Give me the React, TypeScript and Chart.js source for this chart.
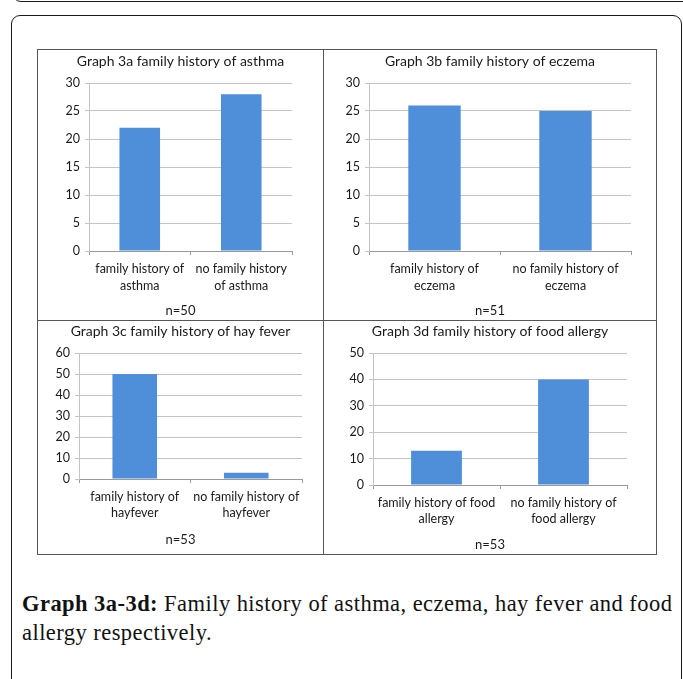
import React, { useEffect, useRef } from "react";
import { Chart, registerables } from "chart.js";

Chart.register(...registerables);

// ---- data ----
const asthmaLabels = [["family history of", "asthma"], ["no family history", "of asthma"]];
const asthmaValues = [22, 28];
const eczemaLabels = [["family history of", "eczema"], ["no family history of", "eczema"]];
const eczemaValues = [26, 25];
const hayLabels = [["family history of", "hayfever"], ["no family history of", "hayfever"]];
const hayValues = [50, 3];
const foodLabels = [["family history of food", "allergy"], ["no family history of", "food allergy"]];
const foodValues = [13, 40];
const panelTitles = [
  "Graph 3a family history of asthma",
  "Graph 3b family history of eczema",
  "Graph 3c family history of hay fever",
  "Graph 3d family history of food allergy",
];
const sampleSizes = ["n=50", "n=51", "n=53", "n=53"];
const yMaxes = [30, 30, 60, 50];
const ySteps = [5, 5, 10, 10];

// ---- style ----
const FONT = "Lato, 'Open Sans', sans-serif";
const BAR = "#4f8ed8";
const GRID = "#c4c4c4";
const AXIS = "#9a9a9a";
const TEXT = "#1a1a1a";

type Geo = {
  left: number; top: number; w: number; h: number;
  L: number; R: number; T: number; B: number;
  tc: number; nc: number; lh: number;
};

const geoA: Geo = { left: 38, top: 50, w: 285, h: 270, L: 51, R: 254, T: 33, B: 201, tc: 11, nc: 261, lh: 17 };
const geoB: Geo = { left: 324, top: 50, w: 332, h: 270, L: 45, R: 307, T: 33, B: 201, tc: 11, nc: 261, lh: 17 };
const geoC: Geo = { left: 38, top: 321, w: 285, h: 233, L: 41, R: 264, T: 32, B: 158, tc: 10, nc: 219, lh: 16 };
const geoD: Geo = { left: 324, top: 321, w: 332, h: 233, L: 49, R: 303, T: 32, B: 164, tc: 10, nc: 224, lh: 16 };

type PanelProps = {
  labels: string[][];
  values: number[];
  title: string;
  n: string;
  yMax: number;
  yStep: number;
  geo: Geo;
};

function Panel({ labels, values, title, n, yMax, yStep, geo }: PanelProps) {
  const ref = useRef<HTMLCanvasElement>(null);
  useEffect(() => {
    const titleSize = 14;
    const titleLH = titleSize * 1.2;
    const nSize = 13;
    const nLH = nSize * 1.2;
    const nPadTop = 2;
    const nPadBottom = geo.h - geo.nc - nLH / 2;
    const subH = nLH + nPadTop + nPadBottom;
    const xSize = 12.5;
    const chart = new Chart(ref.current as HTMLCanvasElement, {
      type: "bar",
      data: {
        labels,
        datasets: [
          {
            data: values,
            backgroundColor: BAR,
            borderWidth: 0,
            categoryPercentage: 1,
            barPercentage: 0.4,
            yAxisID: "y",
          },
        ],
      },
      options: {
        animation: false,
        responsive: false,
        maintainAspectRatio: false,
        layout: { padding: 0 },
        plugins: {
          legend: { display: false },
          tooltip: { enabled: false },
          title: {
            display: true,
            text: title,
            color: TEXT,
            font: { family: FONT, size: titleSize, weight: "normal", lineHeight: 1.2 },
            padding: { top: geo.tc - titleLH / 2, bottom: geo.T - geo.tc - titleLH / 2 },
          },
          subtitle: {
            display: true,
            position: "bottom",
            text: n,
            color: TEXT,
            font: { family: FONT, size: nSize, weight: "normal", lineHeight: 1.2 },
            padding: { top: nPadTop, bottom: nPadBottom },
          },
        },
        scales: {
          x: {
            grid: {
              display: true,
              drawOnChartArea: false,
              drawTicks: true,
              tickLength: 4,
              color: AXIS,
              offset: true,
            },
            border: { display: true, color: AXIS },
            ticks: {
              color: TEXT,
              font: { family: FONT, size: xSize, lineHeight: geo.lh / xSize },
              padding: 14 - geo.lh / 2,
              maxRotation: 0,
              minRotation: 0,
              autoSkip: false,
            },
            afterFit: (s: any) => {
              s.height = geo.h - geo.B - subH;
            },
          },
          y: {
            min: 0,
            max: yMax,
            ticks: {
              stepSize: yStep,
              color: TEXT,
              font: { family: FONT, size: 12.5 },
              padding: 5,
            },
            grid: { color: GRID, tickLength: 4 },
            border: { display: true, color: GRID },
            afterFit: (s: any) => {
              s.width = geo.L;
            },
          },
          yRight: {
            type: "linear",
            position: "right",
            display: true,
            grid: { display: false },
            ticks: { display: false },
            border: { display: false },
            afterFit: (s: any) => {
              s.width = geo.w - geo.R;
            },
          },
        },
      },
    } as any);
    return () => chart.destroy();
  }, []);
  return (
    <canvas
      ref={ref}
      width={geo.w}
      height={geo.h}
      style={{ position: "absolute", left: geo.left, top: geo.top, width: geo.w, height: geo.h }}
    />
  );
}

export default function App() {
  const line = "#555";
  return (
    <div
      style={{
        position: "absolute",
        left: 0,
        top: 0,
        width: 683,
        height: 679,
        overflow: "hidden",
        background: "#fff",
      }}
    >
      {/* bottom of previous box */}
      <div
        style={{
          position: "absolute",
          left: 12,
          top: -30,
          width: 690,
          height: 31.5,
          boxSizing: "border-box",
          border: "1.5px solid #1a1a1a",
          borderRadius: 9,
        }}
      />
      {/* figure box */}
      <div
        style={{
          position: "absolute",
          left: 11,
          top: 15,
          width: 671,
          height: 720,
          boxSizing: "border-box",
          border: "1.5px solid #1a1a1a",
          borderRadius: 9,
        }}
      />
      {/* panel grid */}
      <div
        style={{
          position: "absolute",
          left: 37,
          top: 49,
          width: 620,
          height: 506,
          boxSizing: "border-box",
          border: `1px solid ${line}`,
        }}
      />
      <div style={{ position: "absolute", left: 323, top: 49, width: 1, height: 506, background: line }} />
      <div style={{ position: "absolute", left: 37, top: 320, width: 620, height: 1, background: line }} />

      <Panel labels={asthmaLabels} values={asthmaValues} title={panelTitles[0]} n={sampleSizes[0]} yMax={yMaxes[0]} yStep={ySteps[0]} geo={geoA} />
      <Panel labels={eczemaLabels} values={eczemaValues} title={panelTitles[1]} n={sampleSizes[1]} yMax={yMaxes[1]} yStep={ySteps[1]} geo={geoB} />
      <Panel labels={hayLabels} values={hayValues} title={panelTitles[2]} n={sampleSizes[2]} yMax={yMaxes[2]} yStep={ySteps[2]} geo={geoC} />
      <Panel labels={foodLabels} values={foodValues} title={panelTitles[3]} n={sampleSizes[3]} yMax={yMaxes[3]} yStep={ySteps[3]} geo={geoD} />

      {/* caption */}
      <div
        style={{
          position: "absolute",
          left: 22,
          top: 589,
          fontFamily: "'Liberation Serif', 'Times New Roman', serif",
          fontSize: 22.5,
          letterSpacing: 0.45,
          lineHeight: "29px",
          color: "#111",
          whiteSpace: "nowrap",
        }}
      >
        <b>Graph 3a-3d:</b> Family history of asthma, eczema, hay fever and food
        <br />
        allergy respectively.
      </div>
    </div>
  );
}
